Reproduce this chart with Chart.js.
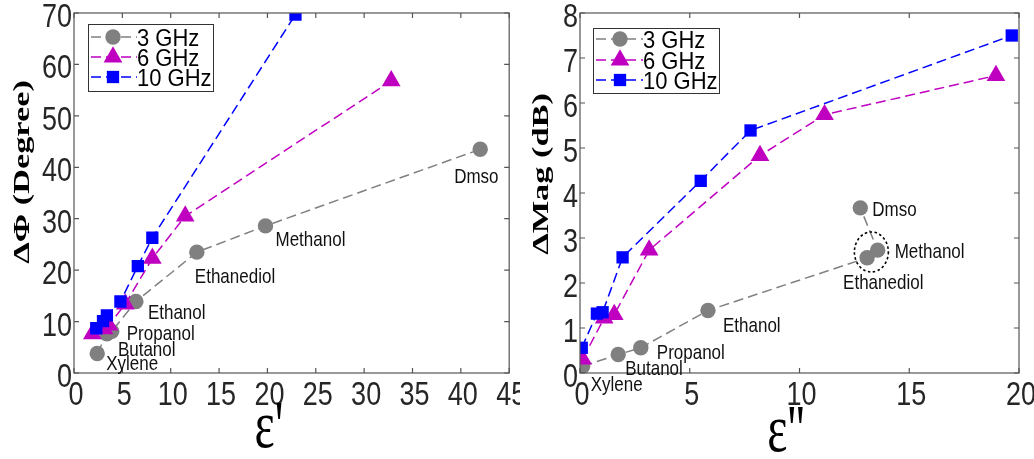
<!DOCTYPE html>
<html>
<head>
<meta charset="utf-8">
<script src="https://cdn.jsdelivr.net/npm/chart.js@4.4.1/dist/chart.umd.min.js"></script>
<style>
  html, body { margin: 0; padding: 0; background: #fff; }
  #wrap { position: relative; width: 1034px; height: 459px; }
  canvas { position: absolute; top: 0; }
</style>
</head>
<body>
<div id="wrap">
  <canvas id="chartPhase" width="520" height="459" style="left:0"></canvas>
  <canvas id="chartMag" width="514" height="459" style="left:520px"></canvas>
</div>
<script>
// nama bahan (urutan sama untuk semua seri)
const materials = ['Xylene', 'Butanol', 'Propanol', 'Ethanol', 'Ethanediol', 'Methanol', 'Dmso'];
const seriesNames = ['3 GHz', '6 GHz', '10 GHz'];

// kiri: delta fasa vs epsilon'
const epsReal3 = [2.4, 3.4, 3.9, 6.4, 12.7, 19.8, 42.0];
const phase3 = [3.8, 7.6, 8.1, 13.9, 23.5, 28.6, 43.5];
const epsReal6 = [1.9, 3.1, 3.6, 5.3, 8.1, 11.5, 32.8];
const phase6 = [7.6, 8.6, 9.3, 13.4, 22.3, 30.5, 56.8];
const epsReal10 = [2.3, 3.0, 3.4, 4.8, 6.6, 8.1, 22.9];
const phase10 = [8.7, 10.1, 11.2, 13.9, 20.8, 26.3, 69.7];

// kanan: delta magnitudo vs epsilon''
const epsImag3 = [0.12, 1.74, 2.77, 5.83, 13.08, 13.56, 12.77];
const mag3 = [0.15, 0.41, 0.56, 1.39, 2.56, 2.73, 3.67];
const epsImag6 = [0.12, 1.1, 1.56, 3.15, 8.2, 11.14, 18.95];
const mag6 = [0.31, 1.22, 1.3, 2.73, 4.83, 5.74, 6.61];
const epsImag10 = [0.08, 0.77, 1.03, 1.94, 5.5, 7.77, 19.67];
const mag10 = [0.56, 1.32, 1.35, 2.57, 4.27, 5.39, 7.5];

// tick: [min, max, step]
const phaseXTicks = [0, 45, 5];
const phaseYTicks = [0, 70, 10];
const magXTicks = [0, 20, 5];
const magYTicks = [0, 8, 1];

const SANS = '"Liberation Sans", Arial, Helvetica, sans-serif';
const SERIF = '"Liberation Serif", "Times New Roman", serif';
const COLORS = ['#808080', '#c000c0', '#0000ff'];
const STYLES = [
  { pointStyle: 'circle', radius: 7.7 },
  { pointStyle: 'triangle', radius: 10.8 },
  { pointStyle: 'rect', radius: 8.7 }
];

function toPoints(xs, ys) {
  return xs.map((x, i) => ({ x: x, y: ys[i] }));
}

function makeDatasets(sets) {
  return sets.map((s, i) => ({
    label: seriesNames[i],
    data: toPoints(s[0], s[1]),
    showLine: true,
    borderColor: COLORS[i],
    backgroundColor: COLORS[i],
    borderWidth: 1.5,
    borderDash: [10, 5],
    pointStyle: STYLES[i].pointStyle,
    pointRadius: STYLES[i].radius,
    pointHoverRadius: STYLES[i].radius,
    pointBorderWidth: 0,
    order: 2 - i
  }));
}

// teks yang "ditarik" (gambar asli terlihat memanjang vertikal)
function stretchedText(ctx, text, x, y, font, sx, sy, opt) {
  opt = opt || {};
  ctx.save();
  ctx.translate(x, y);
  if (opt.rot) ctx.rotate(opt.rot);
  ctx.scale(sx, sy);
  ctx.font = font;
  ctx.textAlign = opt.align || 'center';
  ctx.textBaseline = opt.baseline || 'alphabetic';
  ctx.fillStyle = opt.color || '#000';
  ctx.fillText(text, 0, 0);
  ctx.restore();
}

const decorPlugin = {
  id: 'decor',
  afterDatasetsDraw(chart, args, o) {
    const ctx = chart.ctx;
    const a = chart.chartArea;
    const xs = chart.scales.x, ys = chart.scales.y;

    // kotak + tick ke dalam
    ctx.save();
    ctx.strokeStyle = '#555';
    ctx.lineWidth = 1.2;
    ctx.setLineDash([]);
    ctx.strokeRect(a.left, a.top, a.right - a.left, a.bottom - a.top);
    ctx.beginPath();
    xs.ticks.forEach(t => {
      const p = xs.getPixelForValue(t.value);
      ctx.moveTo(p, a.bottom); ctx.lineTo(p, a.bottom - 5);
      ctx.moveTo(p, a.top); ctx.lineTo(p, a.top + 5);
    });
    ys.ticks.forEach(t => {
      const p = ys.getPixelForValue(t.value);
      ctx.moveTo(a.left, p); ctx.lineTo(a.left + 5, p);
      ctx.moveTo(a.right, p); ctx.lineTo(a.right - 5, p);
    });
    ctx.stroke();
    ctx.restore();

    // label tick (digambar sendiri supaya bisa dipadatkan)
    const tf = '27px ' + SANS;
    xs.ticks.forEach(t => {
      stretchedText(ctx, String(t.value), xs.getPixelForValue(t.value) + 2, a.bottom + 32, tf, 1, 1.24, { color: '#262626' });
    });
    ys.ticks.forEach(t => {
      stretchedText(ctx, String(t.value), a.left - 2, ys.getPixelForValue(t.value) + 14, tf, 1, 1.24, { color: '#262626', align: 'right' });
    });

    // label bahan di seri 3 GHz
    const meta = chart.getDatasetMeta(0);
    materials.forEach((m, i) => {
      const el = meta.data[i];
      const off = o.labelOffsets[i];
      stretchedText(ctx, m, el.x + off[0], el.y + off[1] + 7, '17px ' + SANS, 1, 1.15, { align: 'left', color: '#111' });
    });

    // lingkaran putus-putus (Ethanediol & Methanol)
    if (o.ellipse) {
      const e1 = meta.data[4], e2 = meta.data[5];
      ctx.save();
      ctx.strokeStyle = '#000';
      ctx.lineWidth = 1.6;
      ctx.setLineDash([2.5, 2.5]);
      ctx.beginPath();
      ctx.ellipse((e1.x + e2.x) / 2 - 1, (e1.y + e2.y) / 2 - 2, 17, 20, 0, 0, Math.PI * 2);
      ctx.stroke();
      ctx.restore();
    }

    // legenda dengan kotak
    const L = o.legend;
    ctx.save();
    ctx.fillStyle = '#fff';
    ctx.fillRect(L.x, L.y, L.w, L.h);
    ctx.strokeStyle = '#333';
    ctx.lineWidth = 1;
    ctx.strokeRect(L.x + 0.5, L.y + 0.5, L.w, L.h);
    chart.data.datasets.forEach((ds, i) => {
      const y = L.rows[i];
      ctx.strokeStyle = ds.borderColor;
      ctx.lineWidth = 1.5;
      ctx.setLineDash([10, 5]);
      ctx.beginPath();
      ctx.moveTo(L.lineX0, y); ctx.lineTo(L.lineX1, y);
      ctx.stroke();
      ctx.setLineDash([]);
      ctx.fillStyle = ds.backgroundColor;
      Chart.helpers.drawPoint(ctx, { pointStyle: ds.pointStyle, radius: ds.pointRadius, rotation: 0, borderWidth: 0 }, L.markerX, y);
      stretchedText(ctx, ds.label, L.textX, y + 9, '22px ' + SANS, 1, 1.12, { align: 'left' });
    });
    ctx.restore();

    // judul sumbu
    const T = o.titles;
    stretchedText(ctx, T.y.text, T.y.x, T.y.y, 'bold 24px ' + SERIF, 1.43, 1, { rot: -Math.PI / 2, baseline: 'middle' });
    stretchedText(ctx, T.x.text, T.x.x, T.x.y, '48px ' + SERIF, 1, 1.4);
  }
};

function makeChart(id, sets, xt, yt, fit, decor) {
  return new Chart(document.getElementById(id), {
    type: 'scatter',
    data: { datasets: makeDatasets(sets) },
    options: {
      responsive: false,
      devicePixelRatio: 1,
      animation: false,
      layout: { padding: { top: fit.top, right: fit.right, left: 0, bottom: 0 } },
      plugins: {
        legend: { display: false },
        tooltip: { enabled: false },
        decor: decor
      },
      scales: {
        x: {
          type: 'linear', min: xt[0], max: xt[1],
          ticks: { stepSize: xt[2], display: false },
          grid: { display: false },
          border: { display: false },
          afterFit: s => { s.height = fit.xh; }
        },
        y: {
          type: 'linear', min: yt[0], max: yt[1],
          ticks: { stepSize: yt[2], display: false },
          grid: { display: false },
          border: { display: false },
          afterFit: s => { s.width = fit.yw; }
        }
      }
    },
    plugins: [decorPlugin]
  });
}

makeChart('chartPhase',
  [[epsReal3, phase3], [epsReal6, phase6], [epsReal10, phase10]],
  phaseXTicks, phaseYTicks,
  { top: 13, right: 7, xh: 86, yw: 74 },
  {
    labelOffsets: [[9, 10], [11, 15], [15, 2], [12, 10], [-2, 24], [10, 13], [-26, 27]],
    ellipse: false,
    legend: { x: 88, y: 24, w: 125, h: 67, rows: [37, 57, 77], lineX0: 91, lineX1: 137, markerX: 113, textX: 137 },
    titles: {
      y: { text: 'ΔΦ (Degree)', x: 23, y: 172 },
      x: { text: "ε'", x: 269, y: 447 }
    }
  });

makeChart('chartMag',
  [[epsImag3, mag3], [epsImag6, mag6], [epsImag10, mag10]],
  magXTicks, magYTicks,
  { top: 13, right: 15, xh: 86, yw: 60 },
  {
    labelOffsets: [[8, 18], [7, 13], [16, 4], [15, 15], [-24, 24], [17, 1], [12, 1]],
    ellipse: true,
    legend: { x: 73, y: 28, w: 126, h: 65, rows: [39, 60, 80], lineX0: 76, lineX1: 123, markerX: 100, textX: 123 },
    titles: {
      y: { text: 'ΔMag (dB)', x: 22, y: 174 },
      x: { text: "ε''", x: 266, y: 451 }
    }
  });
</script>
</body>
</html>
